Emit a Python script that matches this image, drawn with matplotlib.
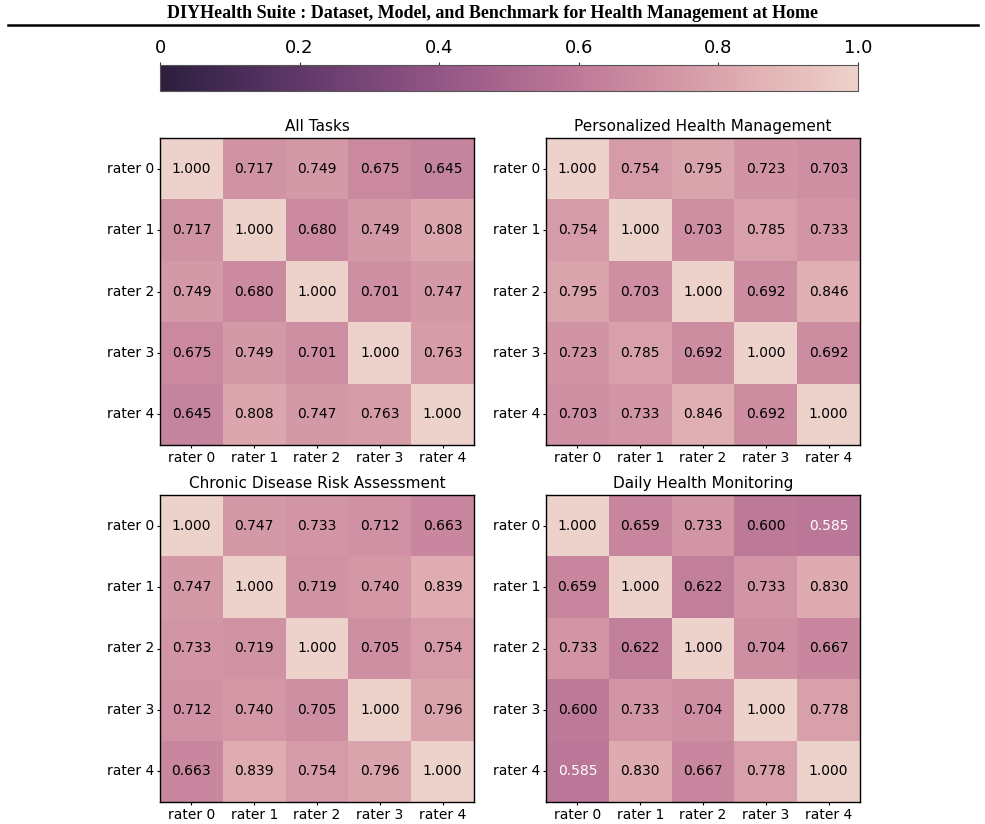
import numpy as np
import matplotlib
matplotlib.use('Agg')
import matplotlib.pyplot as plt
import seaborn as sns
from matplotlib.lines import Line2D
from matplotlib.cm import ScalarMappable
from matplotlib.colors import Normalize

plt.rcParams['font.family'] = ['DejaVu Sans']

## --- Data
raters = ['rater 0', 'rater 1', 'rater 2', 'rater 3', 'rater 4']
titles = ['All Tasks', 'Personalized Health Management',
          'Chronic Disease Risk Assessment', 'Daily Health Monitoring']

all_tasks = [[1.000, 0.717, 0.749, 0.675, 0.645],
             [0.717, 1.000, 0.680, 0.749, 0.808],
             [0.749, 0.680, 1.000, 0.701, 0.747],
             [0.675, 0.749, 0.701, 1.000, 0.763],
             [0.645, 0.808, 0.747, 0.763, 1.000]]
personalized = [[1.000, 0.754, 0.795, 0.723, 0.703],
                [0.754, 1.000, 0.703, 0.785, 0.733],
                [0.795, 0.703, 1.000, 0.692, 0.846],
                [0.723, 0.785, 0.692, 1.000, 0.692],
                [0.703, 0.733, 0.846, 0.692, 1.000]]
chronic = [[1.000, 0.747, 0.733, 0.712, 0.663],
           [0.747, 1.000, 0.719, 0.740, 0.839],
           [0.733, 0.719, 1.000, 0.705, 0.754],
           [0.712, 0.740, 0.705, 1.000, 0.796],
           [0.663, 0.839, 0.754, 0.796, 1.000]]
daily = [[1.000, 0.659, 0.733, 0.600, 0.585],
         [0.659, 1.000, 0.622, 0.733, 0.830],
         [0.733, 0.622, 1.000, 0.704, 0.667],
         [0.600, 0.733, 0.704, 1.000, 0.778],
         [0.585, 0.830, 0.667, 0.778, 1.000]]
cbar_ticks = [0, 0.2, 0.4, 0.6, 0.8, 1.0]
cbar_labels = ['0', '0.2', '0.4', '0.6', '0.8', '1.0']

## --- Plotting
cmap = sns.cubehelix_palette(as_cmap=True, reverse=True)
W, H = 985, 824
fig = plt.figure(figsize=(W / 100, H / 100), dpi=100)

def px_axes(x0, y0, x1, y1):
    # axes from pixel box (top-left origin)
    return fig.add_axes([x0 / W, 1 - y1 / H, (x1 - x0) / W, (y1 - y0) / H])

boxes = [(160, 138, 474, 445), (546, 138, 860, 445),
         (160, 495, 474, 802), (546, 495, 860, 802)]
mats = [all_tasks, personalized, chronic, daily]

for box, mat, title in zip(boxes, mats, titles):
    ax = px_axes(*box)
    sns.heatmap(np.array(mat), ax=ax, cmap=cmap, vmin=0, vmax=1, annot=True, fmt='.3f',
                cbar=False, xticklabels=raters, yticklabels=raters,
                annot_kws={'fontsize': 10})
    # only the darkest cells get white text
    for t in ax.texts:
        t.set_color('white' if float(t.get_text()) < 0.59 else 'black')
    ax.set_title(title, fontsize=11, pad=5)
    ax.tick_params(labelsize=10, length=2, pad=2)
    ax.set_yticklabels(raters, rotation=0)
    for s in ax.spines.values():
        s.set_visible(True)
        s.set_color('black')
        s.set_linewidth(1)

# colorbar on top
cax = px_axes(160, 65, 858, 91)
cb = fig.colorbar(ScalarMappable(norm=Normalize(0, 1), cmap=cmap), cax=cax, orientation='horizontal')
cb.set_ticks(cbar_ticks)
cb.set_ticklabels(cbar_labels)
cax.xaxis.set_ticks_position('top')
cax.tick_params(labelsize=13, length=2, pad=4, colors='#333333', labelcolor='black')
cb.outline.set_edgecolor('#555555')

# header
fig.text(0.5, 1 - 13 / H, 'DIYHealth Suite : Dataset, Model, and Benchmark for Health Management at Home',
         ha='center', va='center', fontsize=13, fontweight='bold', family='Liberation Serif')
fig.add_artist(Line2D([8 / W, 978 / W], [1 - 25 / H, 1 - 25 / H], color='black', lw=1.8))

plt.savefig('out.png', dpi=100)
plt.close()
